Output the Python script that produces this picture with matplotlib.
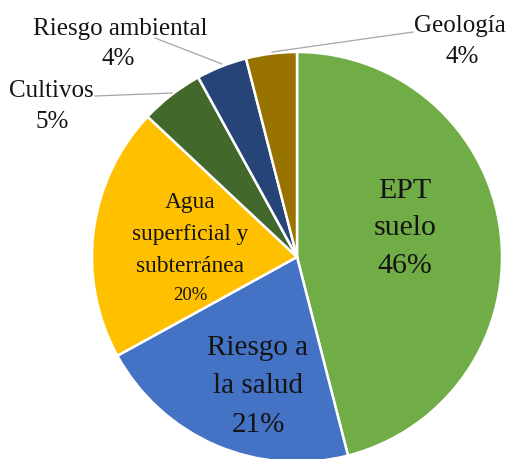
import matplotlib
matplotlib.use("Agg")
import matplotlib.pyplot as plt

categories = ["EPT\nsuelo", "Riesgo a\nla salud", "Agua\nsuperficial y\nsubterránea",
              "Cultivos", "Riesgo ambiental", "Geología"]
values = [46, 21, 20, 5, 4, 4]
pct_labels = ["46%", "21%", "20%", "5%", "4%", "4%"]
colors = ["#70AD47", "#4472C4", "#FFC000", "#43682B", "#264478", "#997300"]

W, H = 509, 459
cx, cy, R = 297, 257, 205

plt.rcParams["font.family"] = ["Liberation Serif", "DejaVu Serif", "DejaVu Sans"]

fig = plt.figure(figsize=(W / 100, H / 100), dpi=100)
ax = fig.add_axes([0, 0, 1, 1])
ax.pie(values, colors=colors, startangle=90, counterclock=False, radius=1,
       wedgeprops=dict(edgecolor="white", linewidth=1.8))
ax.set_xlim(-cx / R, (W - cx) / R)
ax.set_ylim(-(H - cy) / R, cy / R)
ax.set_aspect("auto")
ax.axis("off")


def d(px, py):
    return (px - cx) / R, (cy - py) / R


def put(lines, xs, ys, sizes):
    for t, x, y, s in zip(lines, xs, ys, sizes):
        X, Y = d(x, y)
        ax.text(X, Y, t, ha="center", va="baseline", fontsize=s, color="#141414")


put(categories[0].split("\n") + [pct_labels[0]], [405, 405, 405], [198, 235, 273], [21.5, 21.5, 21.5])
put(categories[1].split("\n") + [pct_labels[1]], [258, 258, 258], [355, 393, 432], [21, 21, 21])
put(categories[2].split("\n") + [pct_labels[2]], [190, 190, 190, 190], [208, 240, 272, 300],
    [16.8, 16.8, 16.8, 13.5])

put([categories[3], pct_labels[3]], [51, 52], [97, 128], [18, 18])
put([categories[4], pct_labels[4]], [120, 118], [35, 65], [18, 18])
put([categories[5], pct_labels[5]], [460, 462], [32, 63], [18, 18])

for (x1, y1), (x2, y2) in [((95, 96), (172, 93)), ((155, 38), (222, 64)), ((413, 32), (272, 52))]:
    a, b = d(x1, y1)
    c, e = d(x2, y2)
    ax.plot([a, c], [b, e], color="#A6A6A6", lw=0.9)

fig.savefig("out.png", dpi=100)
